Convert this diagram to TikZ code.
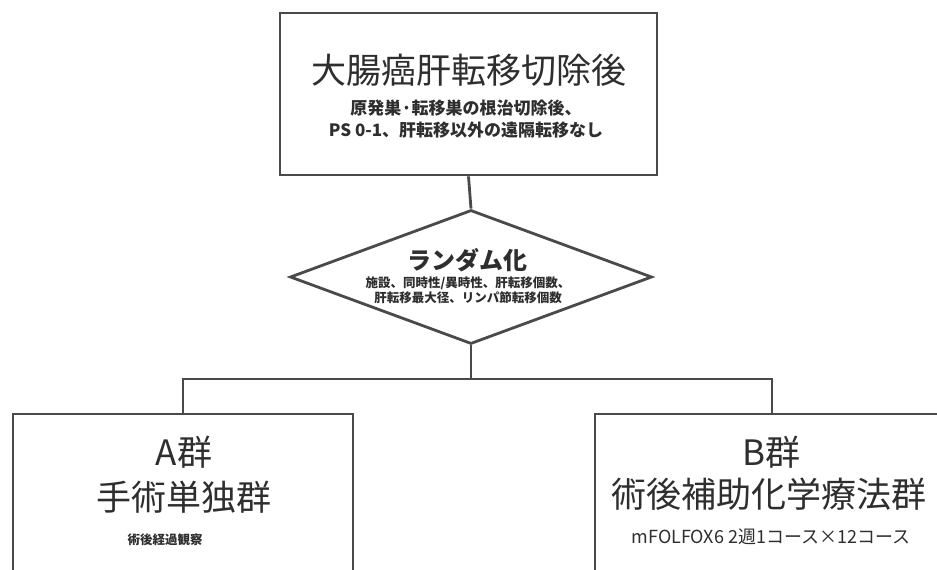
\documentclass[tikz,border=0pt]{standalone}
\usepackage{fontspec}
\setmainfont{Noto Sans CJK JP}
\newfontfamily\jp{Noto Sans CJK JP}
\usetikzlibrary{shapes.geometric}
\definecolor{ln}{HTML}{4A4A4A}
\definecolor{tx}{HTML}{2E2E2E}
\tikzset{
  box/.style={draw=ln, line width=2.8pt, fill=white, inner sep=0pt},
  conn/.style={draw=ln, line width=2.8pt},
  big/.style={text=tx, font=\jp\fontsize{35}{40}\selectfont, inner sep=0pt},
  small/.style={text=tx, font=\jp\bfseries\fontsize{17}{22}\selectfont, inner sep=0pt, align=center},
}
\begin{document}
\begin{tikzpicture}[x=1pt,y=-1pt]
\clip (0,0) rectangle (937,570);
\fill[white] (0,0) rectangle (937,570);
% top box
\node[box, minimum width=377pt, minimum height=162pt] (top) at (468.5,94) {};
\node[big] (title) at (468.5,70) {大腸癌肝転移切除後};
\node[small] (cond) at (466,119) {原発巣·転移巣の根治切除後、\\PS 0-1、肝転移以外の遠隔転移なし};
% diamond
\node[box, shape=diamond, aspect=2.7, minimum width=362pt, minimum height=134pt] (rand) at (471,277) {};
\node[text=tx, font=\jp\bfseries\fontsize{24}{26}\selectfont, inner sep=0pt] (randt) at (467,260) {ランダム化};
\node[text=tx, font=\jp\bfseries\fontsize{12.5}{15}\selectfont, inner sep=0pt, align=center] (strat) at (468,290) {施設、同時性/異時性、肝転移個数、\\肝転移最大径、リンパ節転移個数};
% bus
\coordinate (busL) at (183,379);
\coordinate (busR) at (772,379);
% arm boxes
\node[box, minimum width=340pt, minimum height=260pt] (armA) at (183,544) {};
\node[box, minimum width=352pt, minimum height=260pt] (armB) at (771,544) {};
\node[big] (aname) at (184,452) {A群};
\node[big] (atitle) at (184,497) {手術単独群};
\node[text=tx, font=\jp\bfseries\fontsize{12.5}{15}\selectfont, inner sep=0pt] (adesc) at (165,540) {術後経過観察};
\node[big] (bname) at (771,452) {B群};
\node[big] (btitle) at (769,494) {術後補助化学療法群};
\node[text=tx, font=\jp\fontsize{18}{20}\selectfont, inner sep=0pt] (bdesc) at (771,537) {mFOLFOX6 2週1コース×12コース};
% connectors
\draw[conn] (top.south) -- (rand.north);
\draw[conn] (rand.south) -- (rand.south |- busL);
\draw[conn] (armA.north -| busL) -- (busL) -- (busR) -- (armB.north -| busR);
\end{tikzpicture}
\end{document}
